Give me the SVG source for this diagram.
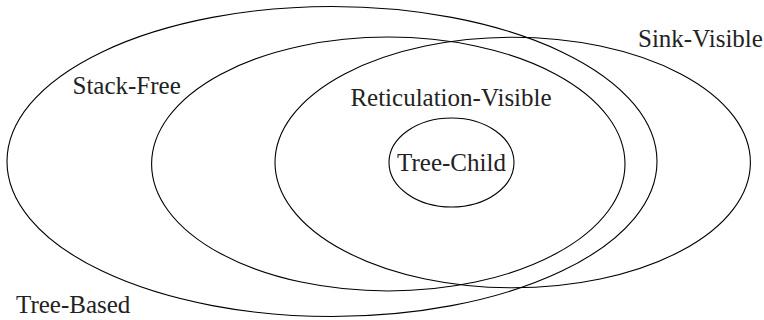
<svg xmlns="http://www.w3.org/2000/svg" width="764" height="320" viewBox="0 0 764 320">
<style>
.set{fill:none;stroke:#000;stroke-width:1.1}
.lbl{font-family:"Liberation Serif","Times New Roman",serif;font-size:25px;fill:#222}
</style>
<rect width="764" height="320" fill="#fff"/>
<g id="tree-based">
<ellipse class="set" cx="332" cy="161.5" rx="325" ry="155"/>
<text class="lbl" x="16" y="313">Tree-Based</text>
</g>
<g id="stack-free">
<ellipse class="set" cx="388.3" cy="164" rx="236.7" ry="127"/>
<text class="lbl" x="72.5" y="94">Stack-Free</text>
</g>
<g id="sink-visible">
<ellipse class="set" cx="512.7" cy="162.5" rx="237.7" ry="125.3"/>
<text class="lbl" x="638" y="47">Sink-Visible</text>
</g>
<g id="reticulation-visible">
<text class="lbl" x="451" y="106" text-anchor="middle">Reticulation-Visible</text>
</g>
<g id="tree-child">
<ellipse class="set" cx="451.5" cy="162.5" rx="62.5" ry="44.5"/>
<text class="lbl" x="451.5" y="170.5" text-anchor="middle">Tree-Child</text>
</g>
<g id="connectors"/>
</svg>
